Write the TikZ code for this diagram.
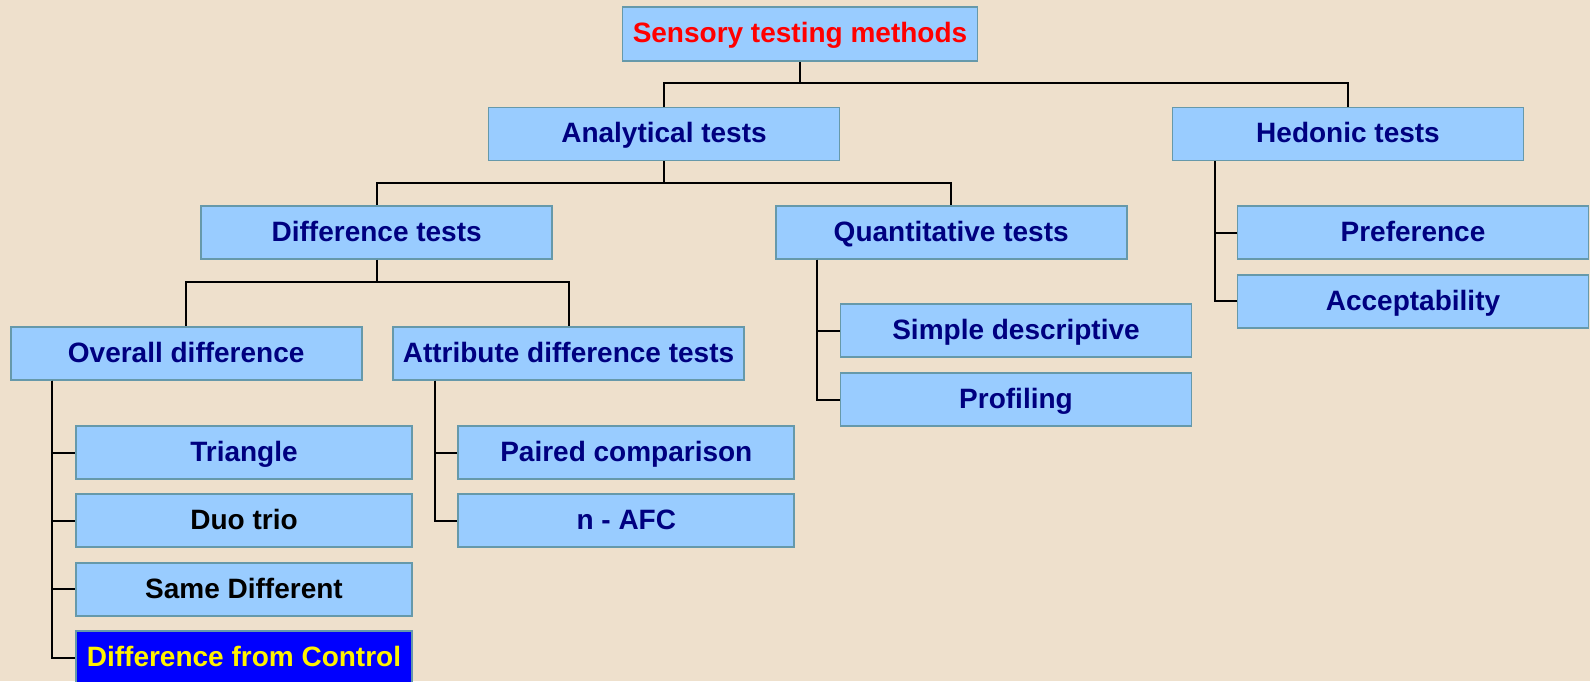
\documentclass[tikz,border=0pt]{standalone}
\usepackage{fontspec}
\setmainfont{Liberation Sans}
\usetikzlibrary{calc}
\definecolor{bg}{HTML}{EEE0CC}
\definecolor{boxfill}{HTML}{99CCFF}
\definecolor{boxline}{HTML}{6699AA}
\definecolor{navy}{HTML}{000080}
\tikzset{
 box/.style={draw=boxline, line width=0.9pt, fill=boxfill, minimum width=175.5pt, minimum height=26.5pt, inner sep=0pt, text height=9.6pt, text depth=0.8pt, font=\bfseries\fontsize{14}{16}\selectfont, text=navy},
 leafbox/.style={box, minimum width=168pt},
 link/.style={draw=black, line width=1pt},
}
\begin{document}
\begin{tikzpicture}[x=0.5pt,y=-0.5pt]
\clip (0,0) rectangle (1590,681);
\fill[bg] (0,0) rectangle (1590,681);
% nodes
\node[box, minimum width=177.5pt, minimum height=27pt, text=red] (root) at (800,34) {Sensory testing methods};
\node[box] (an) at (664,134) {Analytical tests};
\node[box] (hed) at (1348,134) {Hedonic tests};
\node[box] (dif) at (376.7,232.2) {Difference tests};
\node[box] (quant) at (951.2,232.2) {Quantitative tests};
\node[box] (ov) at (186.2,353.3) {Overall difference};
\node[box] (att) at (568.5,353.3) {Attribute difference tests};
\node[box] (simp) at (1016,330.5) {Simple descriptive};
\node[box] (prof) at (1016,399.5) {Profiling};
\node[box] (pref) at (1413,232.5) {Preference};
\node[box] (acc) at (1413,301.4) {Acceptability};
\node[leafbox] (tri) at (244,452.5) {Triangle};
\node[leafbox, text=black] (duo) at (244,520.8) {Duo trio};
\node[leafbox, text=black] (same) at (244,589.2) {Same Different};
\node[leafbox, fill=blue, text=yellow] (dfc) at (244,657.7) {Difference from Control};
\node[leafbox] (pair) at (626.3,452.5) {Paired comparison};
\node[leafbox] (nafc) at (626.3,520.8) {n - AFC};
% junctions
\coordinate (j1) at (800,83);
\coordinate (j2) at (664,182.5);
\coordinate (j3) at (376.7,282);
% tree connectors
\draw[link] (root.south) -- (j1) -| (an.north);
\draw[link] (j1) -| (hed.north);
\draw[link] (an.south) -- (j2) -| (dif.north);
\draw[link] (j2) -| (quant.north);
\draw[link] (dif.south) -- (j3) -| (ov.north);
\draw[link] (j3) -| (att.north);
% side connectors
\foreach \c in {tri,duo,same,dfc}{\draw[link] ($(ov.south west)+(42,0)$) |- (\c.west);}
\foreach \c in {pair,nafc}{\draw[link] ($(att.south west)+(43,0)$) |- (\c.west);}
\foreach \c in {simp,prof}{\draw[link] ($(quant.south west)+(42.6,0)$) |- (\c.west);}
\foreach \c in {pref,acc}{\draw[link] ($(hed.south west)+(43,0)$) |- (\c.west);}
\end{tikzpicture}
\end{document}
